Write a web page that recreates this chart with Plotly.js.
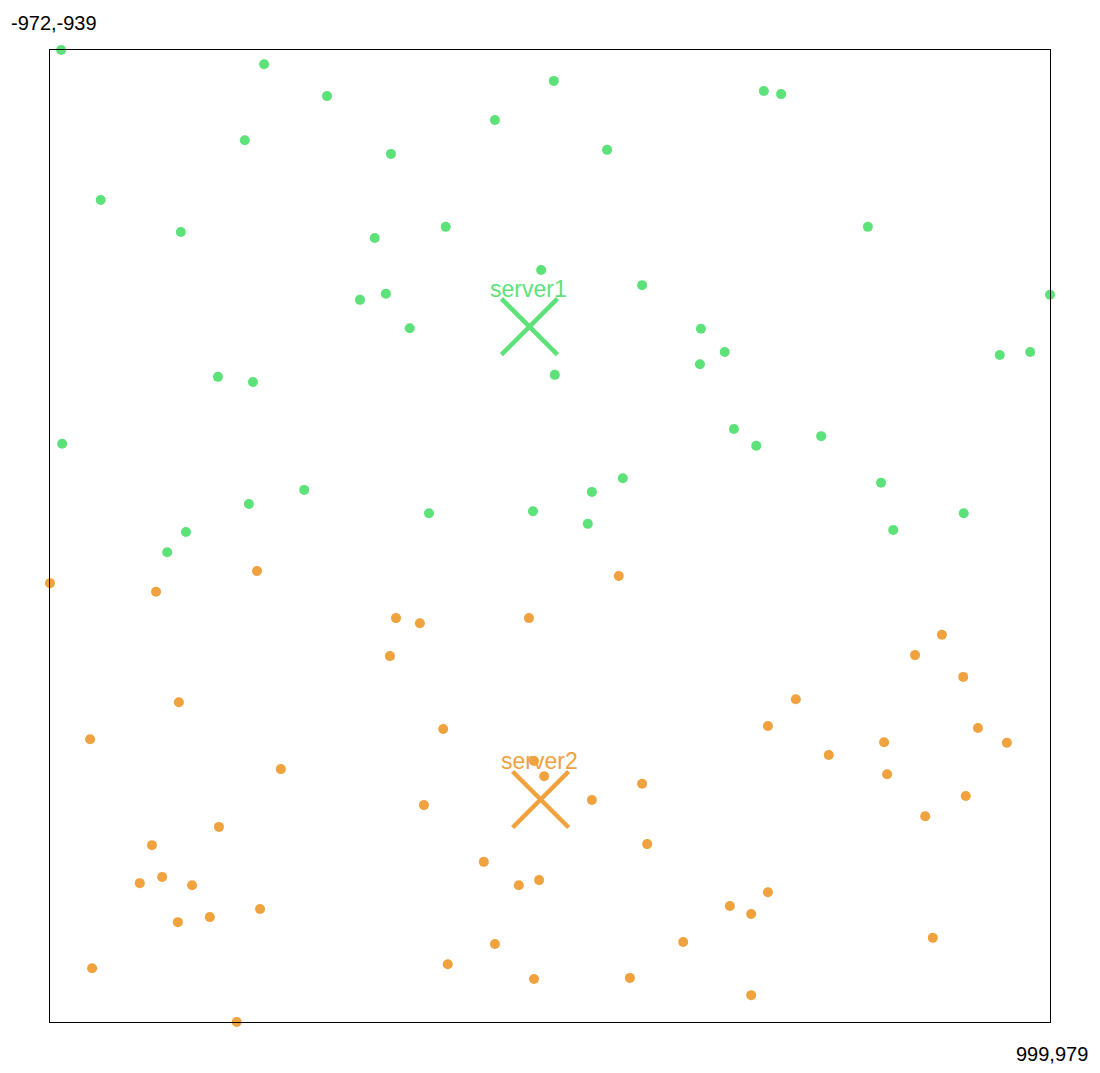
<!DOCTYPE html>
<html>
<head>
<meta charset="utf-8">
<script src="https://cdn.plot.ly/plotly-3.0.1.min.js"></script>
<style>
  html, body { margin: 0; padding: 0; background: #fff; }
  #chart { width: 1100px; height: 1073px; }
</style>
</head>
<body>
<div id="chart"></div>
<script>
// bounds of the map (top-left / bottom-right corner)
const xMin = -972, yMin = -939;
const xMax = 999, yMax = 979;

// clients of server1
const greenX = [-950, -550, -426, 21, 435, 469, -95, -588, -300, 126,
                -872, -714, -332, -192, 640, -4, 195, -361, -310, -263,
                999, 311, 358, 309, 900, 960, 23, -641, -572, -948,
                376, 420, 548, -471, -580, -225, -20, 96, 157, 88,
                666, 690, 829, -704, -741];
const greenY = [-939, -911, -848, -878, -858, -852, -801, -761, -734, -742,
                -643, -580, -568, -590, -590, -505, -475, -446, -458, -390,
                -456, -389, -343, -319, -337, -343, -298, -294, -284, -162,
                -191, -158, -177, -71, -43, -25, -29, -67, -94, -4,
                -85, 8, -25, 12, 52];

// clients of server2
const orangeX = [-972, -564, -763, 149, -290, -243, -28, -302, 786, 733,
                 828, 498, -718, -197, 443, 857, -893, 672, 914, 563,
                 -18, 2, -517, 678, 195, 96, 833, -235, -639, 753,
                 -771, 205, -117, -751, -795, -692, -48, -8, 443, -558,
                 -657, -720, 368, 410, -95, 276, 768, -889, -188, -18,
                 171, 410, -604];
const orangeY = [113, 89, 130, 99, 182, 192, 182, 257, 215, 255,
                 298, 342, 348, 401, 395, 399, 421, 427, 428, 452,
                 464, 494, 480, 490, 509, 541, 533, 551, 594, 573,
                 630, 628, 663, 693, 705, 709, 709, 699, 723, 756,
                 772, 782, 750, 766, 825, 821, 813, 873, 865, 894,
                 892, 926, 979];

// servers
const serverNames = ['server1', 'server2'];
const serverX = [-27, -5];
const serverY = [-393, 540];
const labelX = [-29, -7];
const labelY = [-467, 464];

const green = '#5de27a';
const orange = '#f0a23e';
const serverColors = [green, orange];

const traces = [
    {
        x: greenX, y: greenY, type: 'scatter', mode: 'markers',
        marker: { color: green, size: 10 }, cliponaxis: false, hoverinfo: 'x+y'
    },
    {
        x: orangeX, y: orangeY, type: 'scatter', mode: 'markers',
        marker: { color: orange, size: 10 }, cliponaxis: false, hoverinfo: 'x+y'
    },
    {
        x: serverX, y: serverY, type: 'scatter', mode: 'markers',
        marker: {
            symbol: 'x-thin', size: 56, color: serverColors,
            line: { width: 4.5, color: serverColors }
        },
        cliponaxis: false, hoverinfo: 'x+y'
    }
];

const annotations = serverNames.map((name, i) => ({
    x: labelX[i], y: labelY[i], xref: 'x', yref: 'y',
    text: name, showarrow: false, xanchor: 'center', yanchor: 'middle',
    font: { family: 'Liberation Sans, Arial, sans-serif', size: 23, color: serverColors[i] }
}));

// corner labels
annotations.push({
    x: -0.041, y: 1.0273, xref: 'paper', yref: 'paper',
    text: xMin + ',' + yMin, showarrow: false, xanchor: 'left', yanchor: 'middle',
    font: { family: 'Liberation Sans, Arial, sans-serif', size: 20, color: '#000' }
});
annotations.push({
    x: 1.0395, y: -0.0329, xref: 'paper', yref: 'paper',
    text: xMax + ',' + yMax, showarrow: false, xanchor: 'right', yanchor: 'middle',
    font: { family: 'Liberation Sans, Arial, sans-serif', size: 20, color: '#000' }
});

const axisBase = {
    showgrid: false, zeroline: false, showticklabels: false, ticks: '',
    showline: true, mirror: true, linecolor: '#000', linewidth: 1, fixedrange: true
};

const layout = {
    width: 1100, height: 1073,
    margin: { l: 50, r: 50, t: 50, b: 51 },
    paper_bgcolor: '#fff', plot_bgcolor: '#fff',
    showlegend: false,
    xaxis: { ...axisBase, range: [xMin, xMax] },
    yaxis: { ...axisBase, range: [yMax, yMin] },
    annotations: annotations
};

Plotly.newPlot('chart', traces, layout, { displayModeBar: false, staticPlot: true });
</script>
</body>
</html>
